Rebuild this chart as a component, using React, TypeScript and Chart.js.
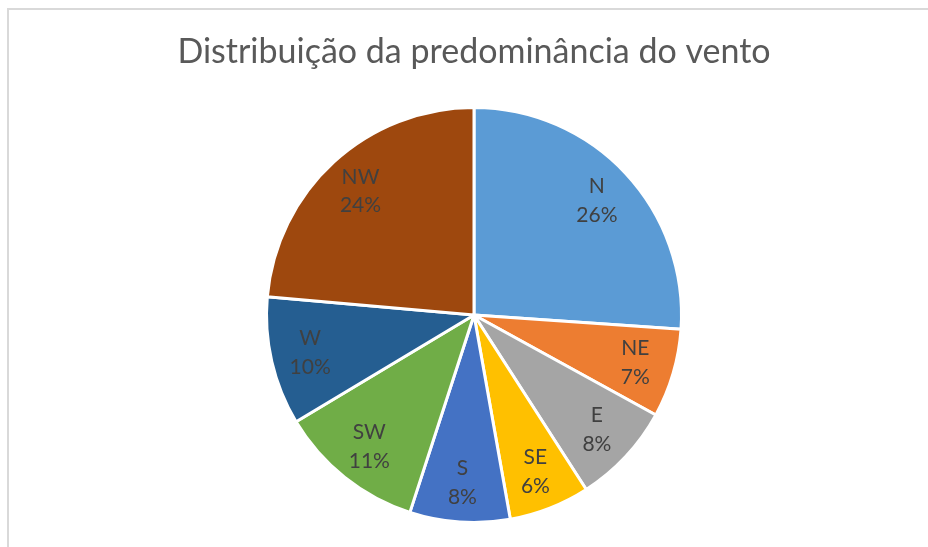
import React, { useEffect, useRef } from "react";
import { Chart, registerables } from "chart.js";

Chart.register(...registerables);

const TITLE = "Distribuição da predominância do vento";
const directions = ["N", "NE", "E", "SE", "S", "SW", "W", "NW"];
const shares = [26.1, 6.9, 7.9, 6.3, 7.8, 11.4, 10.0, 23.6];
const sliceColors = ["#5B9BD5", "#ED7D31", "#A5A5A5", "#FFC000", "#4472C4", "#70AD47", "#255E91", "#9E480E"];

const FONT = "Lato, 'Open Sans', sans-serif";

const labelPlugin = {
  id: "sliceLabels",
  afterDatasetsDraw(chart: any) {
    const ctx = chart.ctx;
    const meta = chart.getDatasetMeta(0);
    const data = chart.data.datasets[0].data as number[];
    const total = data.reduce((a, b) => a + b, 0);
    ctx.save();
    ctx.fillStyle = "#404040";
    ctx.font = `21px ${FONT}`;
    ctx.textAlign = "center";
    ctx.textBaseline = "middle";
    meta.data.forEach((arc: any, i: number) => {
      const p = arc.getProps(["x", "y", "startAngle", "endAngle", "outerRadius"], true);
      const mid = (p.startAngle + p.endAngle) / 2;
      const r = p.outerRadius * 0.81;
      const x = p.x + Math.cos(mid) * r;
      const y = p.y + Math.sin(mid) * r;
      const pct = Math.round((data[i] / total) * 100) + "%";
      ctx.fillText(chart.data.labels[i], x, y - 14);
      ctx.fillText(pct, x, y + 14.5);
    });
    ctx.restore();
  },
};

const titlePlugin = {
  id: "customTitle",
  afterDraw(chart: any) {
    const ctx = chart.ctx;
    ctx.save();
    ctx.fillStyle = "#595959";
    ctx.font = `34px ${FONT}`;
    ctx.textAlign = "center";
    ctx.textBaseline = "middle";
    ctx.fillText(TITLE, 474, 52);
    ctx.restore();
  },
};

export default function App() {
  const ref = useRef<HTMLCanvasElement>(null);
  useEffect(() => {
    document.body.style.overflow = "hidden";
    const chart = new Chart(ref.current!, {
      type: "pie",
      data: {
        labels: directions,
        datasets: [
          {
            data: shares,
            backgroundColor: sliceColors,
            borderColor: "#ffffff",
            borderWidth: 3,
          },
        ],
      },
      options: {
        responsive: false,
        animation: false,
        radius: 207.5,
        layout: { padding: { top: 105, bottom: 22, left: 60, right: 40 } },
        plugins: {
          legend: { display: false },
          title: { display: false },
          tooltip: { enabled: false },
        },
      } as any,
      plugins: [labelPlugin, titlePlugin],
    });
    return () => chart.destroy();
  }, []);

  return (
    <>
      <div
        style={{
          position: "fixed",
          left: 7,
          top: 8,
          width: 921,
          height: 539,
          boxSizing: "border-box",
          borderTop: "2px solid #d9d9d9",
          borderLeft: "2px solid #d9d9d9",
        }}
      />
      <canvas
        ref={ref}
        width={928}
        height={547}
        style={{ position: "fixed", left: 0, top: 0, width: 928, height: 547 }}
      />
    </>
  );
}
